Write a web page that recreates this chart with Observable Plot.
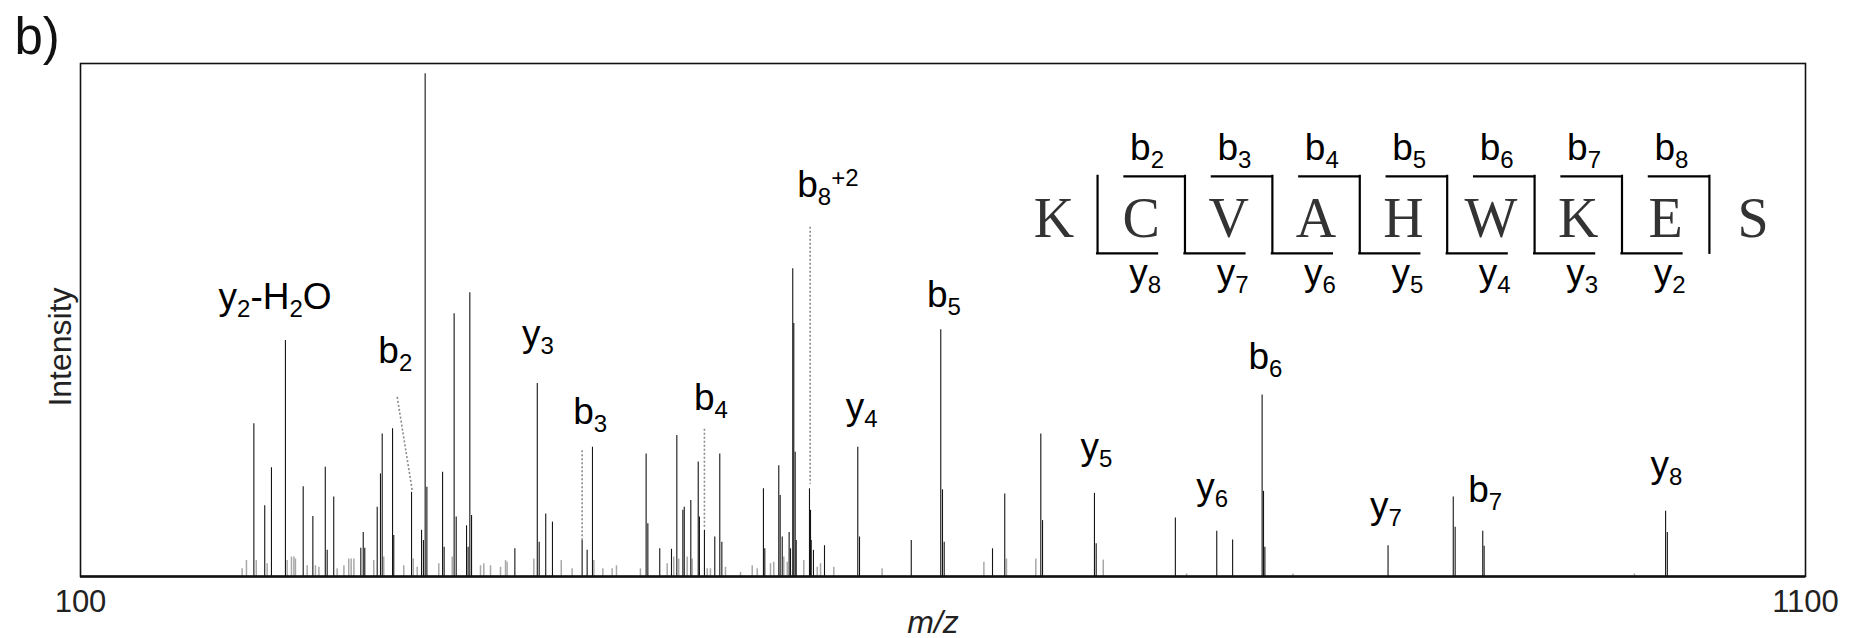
<!DOCTYPE html>
<html>
<head>
<meta charset="utf-8">
<script src="https://cdn.jsdelivr.net/npm/d3@7"></script>
<script src="https://cdn.jsdelivr.net/npm/@observablehq/plot@0.6"></script>
<style>
  html, body { margin: 0; padding: 0; background: #fff; }
  svg { display: block; }
</style>
</head>
<body>
<div id="chart"></div>
<script>
// ---------------- data ----------------
// main (annotated / strong) peaks: m/z and relative intensity (% of frame height)
const peakMz = [
  200.5, 206.8, 210.7, 218.8, 229.1, 234.7, 241.9, 243.0, 246.8, 262.5, 263.9, 264.8,
  272.0, 273.9, 274.9, 280.9, 281.6, 291.9, 297.7, 298.8, 299.8, 300.8,
  309.9, 310.8, 316.6, 317.8, 323.8, 324.7, 325.7, 326.7, 351.8, 364.8, 365.9, 369.7,
  373.6, 390.8, 393.7, 396.8,
  427.9, 428.9, 435.8, 442.6, 445.7, 449.2, 450.0, 453.8, 458.1, 458.8, 461.7, 467.7,
  470.6, 471.8, 495.9, 496.7, 504.8, 505.6, 506.8, 510.8, 511.6, 512.9, 513.5, 514.3,
  514.9, 522.6, 523.2, 523.6, 524.9, 531.3,
  550.6, 551.6, 581.6, 598.7, 599.7, 600.7, 628.7, 635.8, 656.7, 657.7, 687.8, 688.8,
  734.7, 758.7, 767.9, 785.0, 785.8, 786.6, 858.0, 895.8, 896.9, 912.9, 913.7, 1018.9, 1019.9
];
const peakIntensity = [
  29.8, 13.8, 21.2, 46.0, 17.5, 11.7, 21.3, 5.1, 15.5, 5.5, 8.6, 5.5,
  13.5, 20.0, 27.8, 28.8, 8.0, 16.4, 9.0, 7.0, 98.0, 17.4,
  20.3, 5.7, 51.2, 11.6, 9.9, 5.7, 55.3, 11.9, 5.4, 37.6, 6.7, 12.2,
  10.6, 7.0, 5.1, 25.2,
  23.9, 10.3, 5.4, 5.3, 27.5, 12.9, 13.5, 14.8, 22.3, 11.6, 9.0, 7.7,
  23.9, 6.7, 17.1, 5.4, 21.6, 15.8, 7.7, 8.6, 5.4, 60.0, 49.3, 24.2,
  7.0, 17.1, 12.9, 7.0, 5.1, 6.0,
  25.2, 7.7, 7.0, 48.1, 16.9, 6.7, 5.4, 16.1, 27.8, 10.9, 16.2, 6.4,
  11.4, 8.8, 7.1, 35.4, 16.6, 5.7, 6.0, 15.5, 9.6, 8.8, 5.9, 12.7, 8.6
];
// weak background peaks (grey)
const noiseMz = [
  193.7, 196.2, 201.9, 208.2, 219.8, 222.3, 223.7, 224.6, 231.4, 236.2, 238.2, 248.8,
  252.7, 255.5, 256.9, 258.5, 270.0, 275.8, 287.4, 292.9, 295.2,
  307.7, 315.5, 331.9, 333.8, 337.7, 343.5, 346.4, 347.3, 362.8, 378.7, 385.0, 397.6,
  402.8, 408.2, 410.7,
  424.6, 440.1, 443.9, 446.8, 451.7, 454.6, 463.3, 465.2, 473.9, 482.6, 489.4, 492.3,
  500.0, 501.9, 507.7, 509.7, 519.3, 527.1, 529.0,
  536.7, 564.7, 623.7, 636.8, 653.8, 692.9, 741.2, 802.9, 1000.8
];
const noiseIntensity = [
  1.5, 3.1, 3.1, 2.5, 3.1, 3.8, 3.8, 3.4, 2.1, 2.1, 1.8, 1.5,
  2.1, 3.4, 3.4, 3.4, 3.1, 3.8, 2.1, 3.4, 1.8,
  2.5, 3.8, 2.1, 2.5, 2.1, 1.8, 3.1, 2.8, 3.4, 3.1, 1.5, 3.1,
  1.5, 1.5, 2.1,
  1.5, 2.5, 3.8, 3.4, 3.8, 3.4, 1.5, 1.5, 1.8, 0.8, 2.1, 1.5,
  2.5, 2.8, 3.8, 2.8, 3.1, 1.8, 2.5,
  1.8, 1.5, 2.8, 3.4, 3.4, 3.2, 0.5, 0.5, 0.5
];

// fragment-ion annotations (label centre m/z, label baseline intensity)
const ionLabels = ["y_{2}-H_{2}O", "b_{2}", "y_{3}", "b_{3}", "b_{4}", "b_{8}^{+2}", "y_{4}",
                   "b_{5}", "y_{5}", "y_{6}", "b_{6}", "y_{7}", "b_{7}", "y_{8}"];
const ionLabelMz = [212.8, 282.5, 365.2, 395.5, 465.5, 533.3, 552.8,
                    600.5, 688.9, 756.0, 786.9, 856.8, 914.3, 1019.4];
const ionLabelIntensity = [52.2, 41.6, 45.0, 29.8, 32.4, 73.9, 30.7,
                           52.6, 22.9, 15.1, 40.5, 11.4, 14.5, 19.4];

// dotted leader lines (from label to peak)
const guideIon = ["b2", "b3", "b4", "b8+2"];
const guideMzFrom = [283.6, 390.8, 461.7, 523.0];
const guideIntFrom = [35.0, 24.6, 28.8, 68.2];
const guideMzTo = [292.3, 390.8, 461.7, 523.0];
const guideIntTo = [16.8, 7.0, 9.6, 18.1];

// peptide sequence with fragmentation map
const residues = ["K", "C", "V", "A", "H", "W", "K", "E", "S"];
const bIons = ["b_{2}", "b_{3}", "b_{4}", "b_{5}", "b_{6}", "b_{7}", "b_{8}"];
const yIons = ["y_{8}", "y_{7}", "y_{6}", "y_{5}", "y_{4}", "y_{3}", "y_{2}"];

// x tick labels
const xTicks = [100, 1100];

// ---------------- layout ----------------
const SANS = "'Liberation Sans', Arial, Helvetica, sans-serif";
const SEQFONT = "'Liberation Serif', 'DejaVu Serif', serif";
const LABEL_SIZE = 37;

const SEQ_START = 689.6, SEQ_STEP = 50.67, ARM = 34.8;
const SEQ_TOP = 78.0, SEQ_BOTTOM = 63.0, SEQ_LETTER = 66.1, SEQ_BLABEL = 81.1, SEQ_YLABEL = 56.9;

const peaks = peakMz.map((mz, i) => ({mz, intensity: peakIntensity[i]}));
const noise = noiseMz.map((mz, i) => ({mz, intensity: noiseIntensity[i]}));
const ions = ionLabels.map((label, i) => ({label, mz: ionLabelMz[i], intensity: ionLabelIntensity[i]}));
const guides = guideIon.map((ion, i) => ({ion, x1: guideMzFrom[i], y1: guideIntFrom[i], x2: guideMzTo[i], y2: guideIntTo[i]}));

const boundaries = d3.range(residues.length - 1).map(j => ({x: SEQ_START + j * SEQ_STEP, y1: SEQ_BOTTOM, y2: SEQ_TOP}));
const letters = residues.map((r, i) => ({r, x: SEQ_START + (i - 0.5) * SEQ_STEP, y: SEQ_LETTER}));
const bArms = bIons.map((label, k) => {
  const b = SEQ_START + (k + 1) * SEQ_STEP;
  return {label, x1: b - ARM, x2: b, y: SEQ_TOP, lx: b - 22, ly: SEQ_BLABEL};
});
const yArms = yIons.map((label, k) => {
  const b = SEQ_START + k * SEQ_STEP;
  return {label, x1: b, x2: b + ARM, y: SEQ_BOTTOM, lx: b + 27.6, ly: SEQ_YLABEL};
});

const chart = Plot.plot({
  width: 1861,
  height: 638,
  marginLeft: 80,
  marginRight: 56,
  marginTop: 63,
  marginBottom: 62,
  style: {fontFamily: SANS, background: "#fff", color: "#000", overflow: "visible"},
  x: {domain: [100, 1100]},
  y: {domain: [0, 100], axis: null},
  marks: [
    Plot.ruleX(noise, {x: "mz", y1: 0, y2: "intensity", stroke: "#a8a8a8", strokeWidth: 1.5}),
    Plot.ruleX(peaks, {x: "mz", y1: 0, y2: "intensity", stroke: "#141414", strokeWidth: 1.1}),
    Plot.link(guides, {x1: "x1", y1: "y1", x2: "x2", y2: "y2", stroke: "#8a8a8a", strokeWidth: 1.6, strokeDasharray: "2,2"}),
    Plot.frame({stroke: "#111", strokeWidth: 1.6}),
    Plot.ruleY([0], {stroke: "#111", strokeWidth: 2.4}),
    Plot.axisX({ticks: xTicks, tickSize: 0, tickPadding: 13, tickFormat: "d", fontSize: 31, label: null, fill: "#222"}),
    Plot.text(["m/z"], {frameAnchor: "bottom", dx: -10, dy: 56, lineAnchor: "bottom", fontSize: 32, fontStyle: "italic", fill: "#222"}),
    Plot.text(["Intensity"], {frameAnchor: "left", dx: -10, dy: 27, rotate: -90, lineAnchor: "bottom", textAnchor: "middle", fontSize: 32, fill: "#222"}),
    Plot.text(["b)"], {frameAnchor: "top-left", dx: -66, dy: -10, lineAnchor: "bottom", textAnchor: "start", fontSize: 51, fill: "#111"}),
    // annotations on the spectrum
    Plot.text(ions, {x: "mz", y: "intensity", text: "label", lineAnchor: "bottom", textAnchor: "middle", fontSize: LABEL_SIZE, fill: "#000"}),
    // sequence fragmentation diagram
    Plot.ruleX(boundaries, {x: "x", y1: "y1", y2: "y2", stroke: "#000", strokeWidth: 2.2, strokeLinecap: "square"}),
    Plot.ruleY(bArms, {y: "y", x1: "x1", x2: "x2", stroke: "#000", strokeWidth: 2.2, strokeLinecap: "square"}),
    Plot.ruleY(yArms, {y: "y", x1: "x1", x2: "x2", stroke: "#000", strokeWidth: 2.2, strokeLinecap: "square"}),
    Plot.text(letters, {x: "x", y: "y", text: "r", lineAnchor: "bottom", textAnchor: "middle", fontSize: 56, fontFamily: SEQFONT, fill: "#333"}),
    Plot.text(bArms, {x: "lx", y: "ly", text: "label", lineAnchor: "bottom", textAnchor: "middle", fontSize: LABEL_SIZE, fill: "#000"}),
    Plot.text(yArms, {x: "lx", y: "ly", text: "label", lineAnchor: "bottom", textAnchor: "middle", fontSize: LABEL_SIZE, fill: "#000"})
  ]
});

// turn _{..} / ^{..} into real subscript / superscript tspans
function richify(svg, base) {
  const small = Math.round(base * 0.66), dSub = 8, dSup = -11;
  svg.querySelectorAll("text").forEach(t => {
    const s = t.textContent;
    if (!/[_^]\{/.test(s)) return;
    const re = /([_^])\{([^}]*)\}|([^_^]+)/g;
    let m, cur = 0;
    t.textContent = "";
    while ((m = re.exec(s))) {
      const ts = document.createElementNS("http://www.w3.org/2000/svg", "tspan");
      let target = 0;
      if (m[1]) {
        target = m[1] === "_" ? dSub : dSup;
        ts.setAttribute("font-size", small);
        ts.textContent = m[2];
      } else {
        ts.textContent = m[3];
      }
      if (target !== cur) ts.setAttribute("dy", target - cur);
      cur = target;
      t.appendChild(ts);
    }
  });
}
richify(chart, LABEL_SIZE);

document.getElementById("chart").appendChild(chart);
</script>
</body>
</html>
